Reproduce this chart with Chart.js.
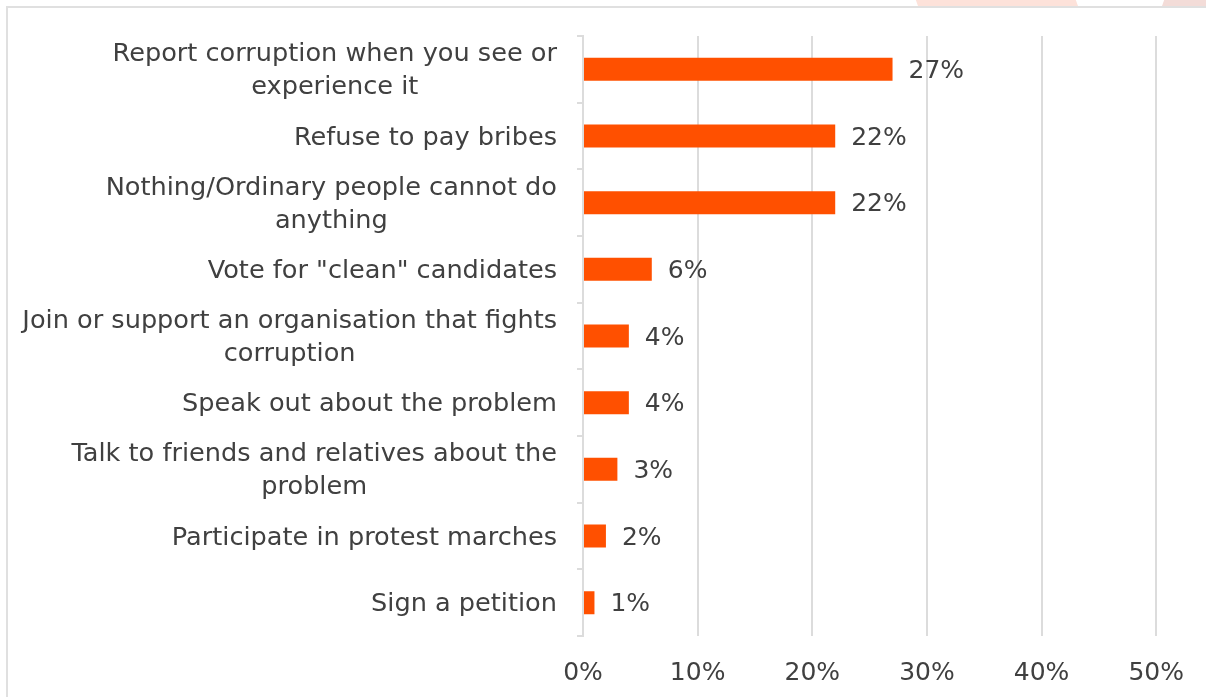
<!DOCTYPE html>
<html>
<head>
<meta charset="utf-8">
<script src="https://cdn.jsdelivr.net/npm/chart.js@4/dist/chart.umd.min.js"></script>
<style>
  html, body { margin: 0; padding: 0; background: #fff; overflow: hidden; }
  .deco { position: absolute; top: 0; height: 12px; }
  .deco.a { left: 918px; width: 160px; background: #fde2da; transform: skewX(20deg); }
  .deco.b { left: 1162px; width: 60px; background: #f3dcd8; transform: skewX(-20deg); }
  .frame { position: absolute; left: 6px; top: 6px; width: 1300px; height: 800px;
           border: 2px solid #e0e0e0; background: #fff; }
  #wrap { position: absolute; left: 0; top: 0; width: 1206px; height: 697px; }
</style>
</head>
<body>
<div class="deco a"></div>
<div class="deco b"></div>
<div class="frame"></div>
<div id="wrap"><canvas id="chart"></canvas></div>
<script>
// answers, top to bottom
const categories = [
  ['Report corruption when you see or', 'experience it'],
  'Refuse to pay bribes',
  ['Nothing/Ordinary people cannot do', 'anything'],
  'Vote for "clean" candidates',
  ['Join or support an organisation that fights', 'corruption'],
  'Speak out about the problem',
  ['Talk to friends and relatives about the', 'problem'],
  'Participate in protest marches',
  'Sign a petition'
];
const shares = [27, 22, 22, 6, 4, 4, 3, 2, 1];
const axisTicks = [0, 10, 20, 30, 40, 50];

const FONT = '"DejaVu Sans", sans-serif';
const TEXT = '#404040';
const GRID = '#dcdcdc';

// category labels: each block right-aligned, its lines centred on each other
const yLabels = {
  id: 'yLabels',
  afterDraw(chart) {
    const ctx = chart.ctx;
    const y = chart.scales.y;
    ctx.save();
    ctx.font = '25.6px ' + FONT;
    ctx.fillStyle = TEXT;
    ctx.textAlign = 'center';
    ctx.textBaseline = 'middle';
    const lh = 33;
    categories.forEach((lab, i) => {
      const lines = Array.isArray(lab) ? lab : [lab];
      const w = Math.max(...lines.map(l => ctx.measureText(l).width));
      const cx = y.right - 26 - w / 2;
      const cy = y.getPixelForTick(i) + 2;
      const top = cy - (lines.length - 1) * lh / 2;
      lines.forEach((l, k) => ctx.fillText(l, cx, top + k * lh));
    });
    ctx.restore();
  }
};

// value labels right of each bar
const barValues = {
  id: 'barValues',
  afterDatasetsDraw(chart) {
    const ctx = chart.ctx;
    const meta = chart.getDatasetMeta(0);
    ctx.save();
    ctx.font = '25px ' + FONT;
    ctx.fillStyle = TEXT;
    ctx.textAlign = 'left';
    ctx.textBaseline = 'middle';
    meta.data.forEach((bar, i) => {
      ctx.fillText(shares[i] + '%', bar.x + 16, bar.y + 2);
    });
    ctx.restore();
  }
};

new Chart(document.getElementById('chart'), {
  type: 'bar',
  data: {
    labels: categories,
    datasets: [{
      data: shares,
      backgroundColor: '#ff5000',
      borderWidth: 0,
      categoryPercentage: 1,
      barPercentage: 0.345
    }]
  },
  options: {
    indexAxis: 'y',
    responsive: true,
    maintainAspectRatio: false,
    animation: false,
    layout: { padding: { top: 36, right: 49, left: 0, bottom: 0 } },
    plugins: {
      legend: { display: false },
      tooltip: { enabled: false }
    },
    scales: {
      x: {
        min: axisTicks[0],
        max: axisTicks[axisTicks.length - 1],
        afterBuildTicks: s => { s.ticks = axisTicks.map(v => ({ value: v })); },
        afterFit: s => { s.height = 61; },
        grid: { color: GRID, lineWidth: 2, drawTicks: false },
        border: { display: false },
        ticks: {
          padding: 22,
          color: TEXT,
          font: { family: FONT, size: 25 },
          callback: v => v + '%'
        }
      },
      y: {
        afterFit: s => { s.width = 583; },
        grid: { drawOnChartArea: false, drawTicks: true, tickLength: 6, color: GRID, lineWidth: 2, offset: true },
        border: { display: true, color: GRID, width: 2 },
        ticks: { display: false }
      }
    }
  },
  plugins: [yLabels, barValues]
});
</script>
</body>
</html>
